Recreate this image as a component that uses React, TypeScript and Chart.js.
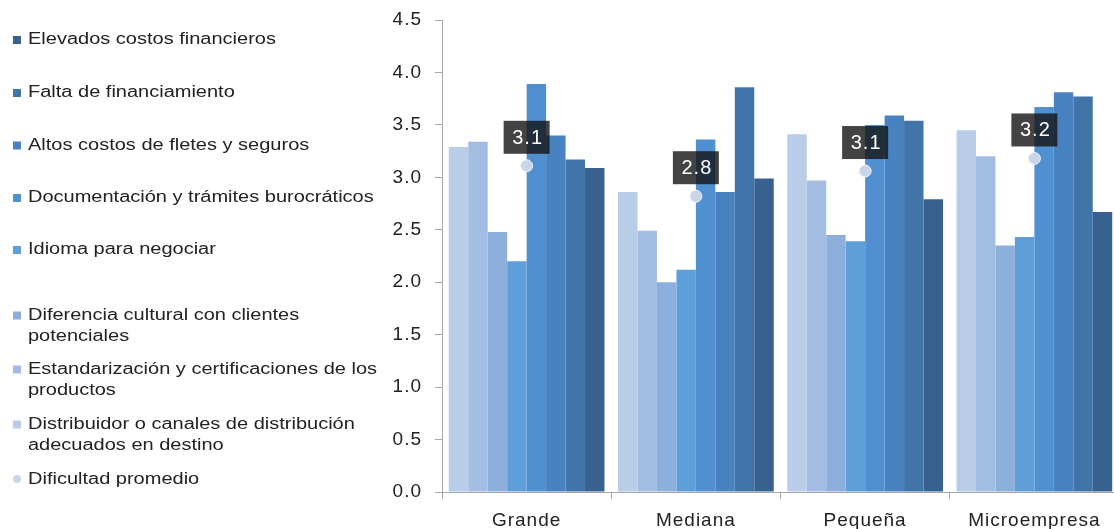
import React, { useEffect, useRef } from 'react';
import { Chart, registerables } from 'chart.js';

Chart.register(...registerables);

// ---- data ----
const categories = ['Grande', 'Mediana', 'Pequeña', 'Microempresa'];

const seriesNames = [
  'Distribuidor o canales de distribución adecuados en destino',
  'Estandarización y certificaciones de los productos',
  'Diferencia cultural con clientes potenciales',
  'Idioma para negociar',
  'Documentación y trámites burocráticos',
  'Altos costos de fletes y seguros',
  'Falta de financiamiento',
  'Elevados costos financieros',
];

const distribuidor = [3.29, 2.86, 3.41, 3.45];
const estandarizacion = [3.34, 2.49, 2.97, 3.2];
const diferenciaCultural = [2.48, 2.0, 2.45, 2.35];
const idioma = [2.2, 2.12, 2.39, 2.43];
const documentacion = [3.89, 3.36, 3.5, 3.67];
const fletes = [3.4, 2.86, 3.59, 3.81];
const faltaFinanciamiento = [3.17, 3.86, 3.54, 3.77];
const costosFinancieros = [3.09, 2.99, 2.79, 2.67];

const promedioName = 'Dificultad promedio';
const promedio = [3.11, 2.82, 3.06, 3.18];

const yMin = 0;
const yMax = 4.5;
const yStep = 0.5;

const seriesValues = [
  distribuidor,
  estandarizacion,
  diferenciaCultural,
  idioma,
  documentacion,
  fletes,
  faltaFinanciamiento,
  costosFinancieros,
];

// ---- styles ----
const barColors = ['#b9cce8', '#a3bde2', '#8cafdc', '#5e9ed9', '#5090d0', '#4982c0', '#4175aa', '#38618f'];
const pointColor = '#c9d6ea';
const FONT = '"Liberation Sans", Arial, sans-serif';
const TEXT = '#222222';
const AXIS = '#a6a6a6';

const legendBaselines = [44, 97, 149.5, 202, 254, 319.5, 373.5, 428.5, 484];

const spacingPlugin = {
  id: 'spacing',
  beforeDraw(chart: any) {
    chart.ctx.letterSpacing = '1px';
  },
};

const labelPlugin = {
  id: 'avgLabels',
  afterDatasetsDraw(chart: any) {
    const ctx = chart.ctx;
    const idx = chart.data.datasets.findIndex((d: any) => d.type === 'line');
    if (idx < 0) return;
    const meta = chart.getDatasetMeta(idx);
    const data = chart.data.datasets[idx].data;
    ctx.save();
    ctx.letterSpacing = '1px';
    ctx.font = `20px ${FONT}`;
    ctx.textAlign = 'center';
    ctx.textBaseline = 'middle';
    meta.data.forEach((pt: any, i: number) => {
      const w = 46;
      const h = 33;
      const x = pt.x;
      const bottom = pt.y - 12;
      ctx.fillStyle = 'rgba(20,20,20,0.8)';
      ctx.fillRect(x - w / 2, bottom - h, w, h);
      ctx.fillStyle = '#ffffff';
      ctx.fillText(Number(data[i]).toFixed(1), x + 1, bottom - h / 2 + 1);
    });
    ctx.restore();
  },
};

const legendPlugin = {
  id: 'sideLegend',
  afterDraw(chart: any) {
    const ctx = chart.ctx;
    ctx.save();
    ctx.letterSpacing = '0px';
    ctx.font = `16px ${FONT}`;
    ctx.textBaseline = 'alphabetic';
    ctx.textAlign = 'left';
    const stretch = 1.25;
    const maxRaw = 285;
    const ds = chart.data.datasets;
    const bars = ds.filter((d: any) => d.type !== 'line').slice().reverse();
    const line = ds.find((d: any) => d.type === 'line');
    const items = [...bars, line].filter(Boolean);
    items.forEach((d: any, i: number) => {
      const base = legendBaselines[i];
      if (d.type === 'line') {
        ctx.fillStyle = d.pointBackgroundColor;
        ctx.beginPath();
        ctx.arc(17, base - 5, 4, 0, Math.PI * 2);
        ctx.fill();
      } else {
        ctx.fillStyle = d.backgroundColor;
        ctx.fillRect(13, base - 8, 8, 8);
      }
      const words = String(d.label).split(' ');
      const lines: string[] = [];
      let cur = '';
      words.forEach((w: string) => {
        const test = cur ? cur + ' ' + w : w;
        if (ctx.measureText(test).width > maxRaw && cur) {
          lines.push(cur);
          cur = w;
        } else {
          cur = test;
        }
      });
      if (cur) lines.push(cur);
      ctx.fillStyle = TEXT;
      lines.forEach((ln, j) => {
        ctx.save();
        ctx.translate(28, base + j * 21.5);
        ctx.scale(stretch, 1);
        ctx.fillText(ln, 0, 0);
        ctx.restore();
      });
    });
    ctx.restore();
  },
};

export default function App() {
  const ref = useRef<HTMLCanvasElement | null>(null);

  useEffect(() => {
    if (!ref.current) return;
    const datasets: any[] = [
      {
        type: 'line',
        label: promedioName,
        data: promedio,
        showLine: false,
        pointRadius: 6,
        pointHoverRadius: 6,
        pointBackgroundColor: pointColor,
        pointBorderColor: '#eef2f8',
        pointBorderWidth: 1,
        order: 0,
      },
      ...seriesNames.map((name, i) => ({
        type: 'bar',
        label: name,
        data: seriesValues[i],
        backgroundColor: barColors[i],
        borderWidth: 0,
        categoryPercentage: 0.92,
        barPercentage: 1.0,
        order: 1,
      })),
    ];

    const chart = new Chart(ref.current, {
      type: 'bar',
      data: { labels: categories, datasets },
      options: {
        animation: false,
        responsive: true,
        maintainAspectRatio: false,
        layout: { padding: { top: 20, right: 5, bottom: 0, left: 0 } },
        plugins: {
          legend: { display: false },
          tooltip: { enabled: false },
          title: { display: false },
        },
        scales: {
          x: {
            offset: true,
            grid: {
              display: true,
              drawOnChartArea: false,
              offset: true,
              color: AXIS,
              tickLength: 7,
            },
            border: { display: true, color: AXIS },
            ticks: {
              color: TEXT,
              font: { family: FONT, size: 19 },
              padding: 10,
              maxRotation: 0,
              autoSkip: false,
            },
            afterFit: (s: any) => {
              s.height = 37;
              s.paddingLeft = 0;
              s.paddingRight = 0;
            },
          },
          y: {
            min: yMin,
            max: yMax,
            grid: {
              display: true,
              drawOnChartArea: false,
              color: AXIS,
              tickLength: 7,
            },
            border: { display: true, color: AXIS },
            ticks: {
              stepSize: yStep,
              color: TEXT,
              font: { family: FONT, size: 19 },
              padding: 13,
              callback: (v: any) => Number(v).toFixed(1),
            },
            afterFit: (s: any) => {
              s.width = 442;
              s.paddingTop = 0;
              s.paddingBottom = 0;
            },
          },
        },
      },
      plugins: [spacingPlugin, labelPlugin, legendPlugin],
    });
    return () => chart.destroy();
  }, []);

  return (
    <div
      style={{
        position: 'absolute',
        left: 0,
        top: 0,
        width: 1114,
        height: 529,
        overflow: 'hidden',
        background: '#ffffff',
      }}
    >
      <div style={{ position: 'relative', width: 1126, height: 529 }}>
        <canvas ref={ref} />
      </div>
    </div>
  );
}
